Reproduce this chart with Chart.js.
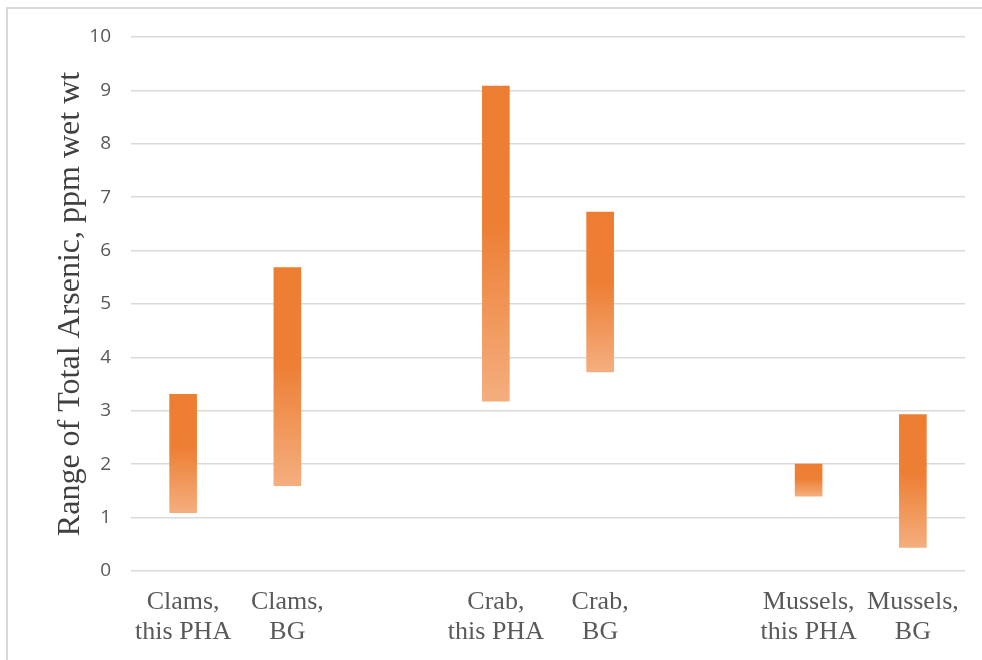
<!DOCTYPE html>
<html>
<head>
<meta charset="utf-8">
<script src="https://cdn.jsdelivr.net/npm/chart.js@4"></script>
<style>
  html, body { margin: 0; padding: 0; background: #fff; overflow: hidden; }
  #frame {
    position: absolute; left: 6px; top: 7px;
    width: 1100px; height: 800px;
    border: 2px solid #d9d9d9;
  }
  #wrap { position: absolute; left: 0; top: 0; width: 982px; height: 660px; }
</style>
</head>
<body>
<div id="frame"></div>
<div id="wrap"><canvas id="arsenicChart" width="982" height="660"></canvas></div>
<script>

    /* =========================
       DATA
    ========================= */

    const categories = [
        ['Clams,', 'this PHA'],
        ['Clams,', 'BG'],
        '',
        ['Crab,', 'this PHA'],
        ['Crab,', 'BG'],
        '',
        ['Mussels,', 'this PHA'],
        ['Mussels,', 'BG']
    ];

    const rangeLow  = [1.09, 1.60, null, 3.18, 3.73, null, 1.40, 0.44];

    const rangeHigh = [3.31, 5.68, null, 9.08, 6.72, null, 2.00, 2.93];

    const yTicks = [0, 1, 2, 3, 4, 5, 6, 7, 8, 9, 10];

    const floatingBars = rangeLow.map((low, i) =>
        low === null ? null : [low, rangeHigh[i]]
    );

    /* =========================
       BAR FILL (orange fading downwards)
    ========================= */

    function barFill(context){
        const chart = context.chart;
        const raw = context.raw;
        const yScale = chart.scales && chart.scales.y;
        if(!raw || !yScale || !chart.chartArea){
            return '#ED7D31';
        }
        const top = yScale.getPixelForValue(Math.max(raw[0], raw[1]));
        const bottom = yScale.getPixelForValue(Math.min(raw[0], raw[1]));
        if(!isFinite(top) || !isFinite(bottom) || bottom - top < 1){
            return '#ED7D31';
        }
        const g = chart.ctx.createLinearGradient(0, top, 0, bottom);
        g.addColorStop(0, '#ED7D31');
        g.addColorStop(0.45, '#ED7F35');
        g.addColorStop(1, '#F4AE7E');
        return g;
    }

    /* =========================
       CHART
    ========================= */

    const ctx = document.getElementById('arsenicChart');

    new Chart(ctx, {

        type: 'bar',

        data: {
            labels: categories,
            datasets: [{
                label: 'Range of Total Arsenic',
                data: floatingBars,
                backgroundColor: barFill,
                borderWidth: 0,
                barThickness: 27
            }]
        },

        options: {
            responsive: false,
            animation: false,
            devicePixelRatio: 1,

            layout: {
                padding: { left: 51, top: 37, right: 17, bottom: 0 }
            },

            plugins: {
                legend: { display: false },
                tooltip: { enabled: false }
            },

            scales: {

                x: {
                    grid: { display: false, drawTicks: false },
                    border: { display: false },
                    ticks: {
                        autoSkip: false,
                        maxRotation: 0,
                        padding: 16,
                        color: '#595959',
                        font: { family: '"Liberation Serif", "Times New Roman", serif', size: 26, lineHeight: 1.15 }
                    },
                    afterFit(scale){
                        scale.height = 89;
                    }
                },

                y: {
                    min: 0,
                    max: 10,
                    afterBuildTicks(scale){
                        scale.ticks = yTicks.map(v => ({ value: v }));
                    },
                    grid: {
                        color: '#d9d9d9',
                        lineWidth: 1.5,
                        drawTicks: false
                    },
                    border: { display: false },
                    ticks: {
                        padding: 20,
                        color: '#595959',
                        font: { family: '"Open Sans", "Liberation Sans", sans-serif', size: 19 }
                    },
                    title: {
                        display: true,
                        text: 'Range of Total Arsenic, ppm wet wt',
                        color: '#404040',
                        padding: 0,
                        font: { family: '"Liberation Serif", "Times New Roman", serif', size: 32, lineHeight: 1.2 }
                    },
                    afterFit(scale){
                        scale.width = 131 - 51;
                    }
                }

            }
        }

    });

</script>
</body>
</html>
